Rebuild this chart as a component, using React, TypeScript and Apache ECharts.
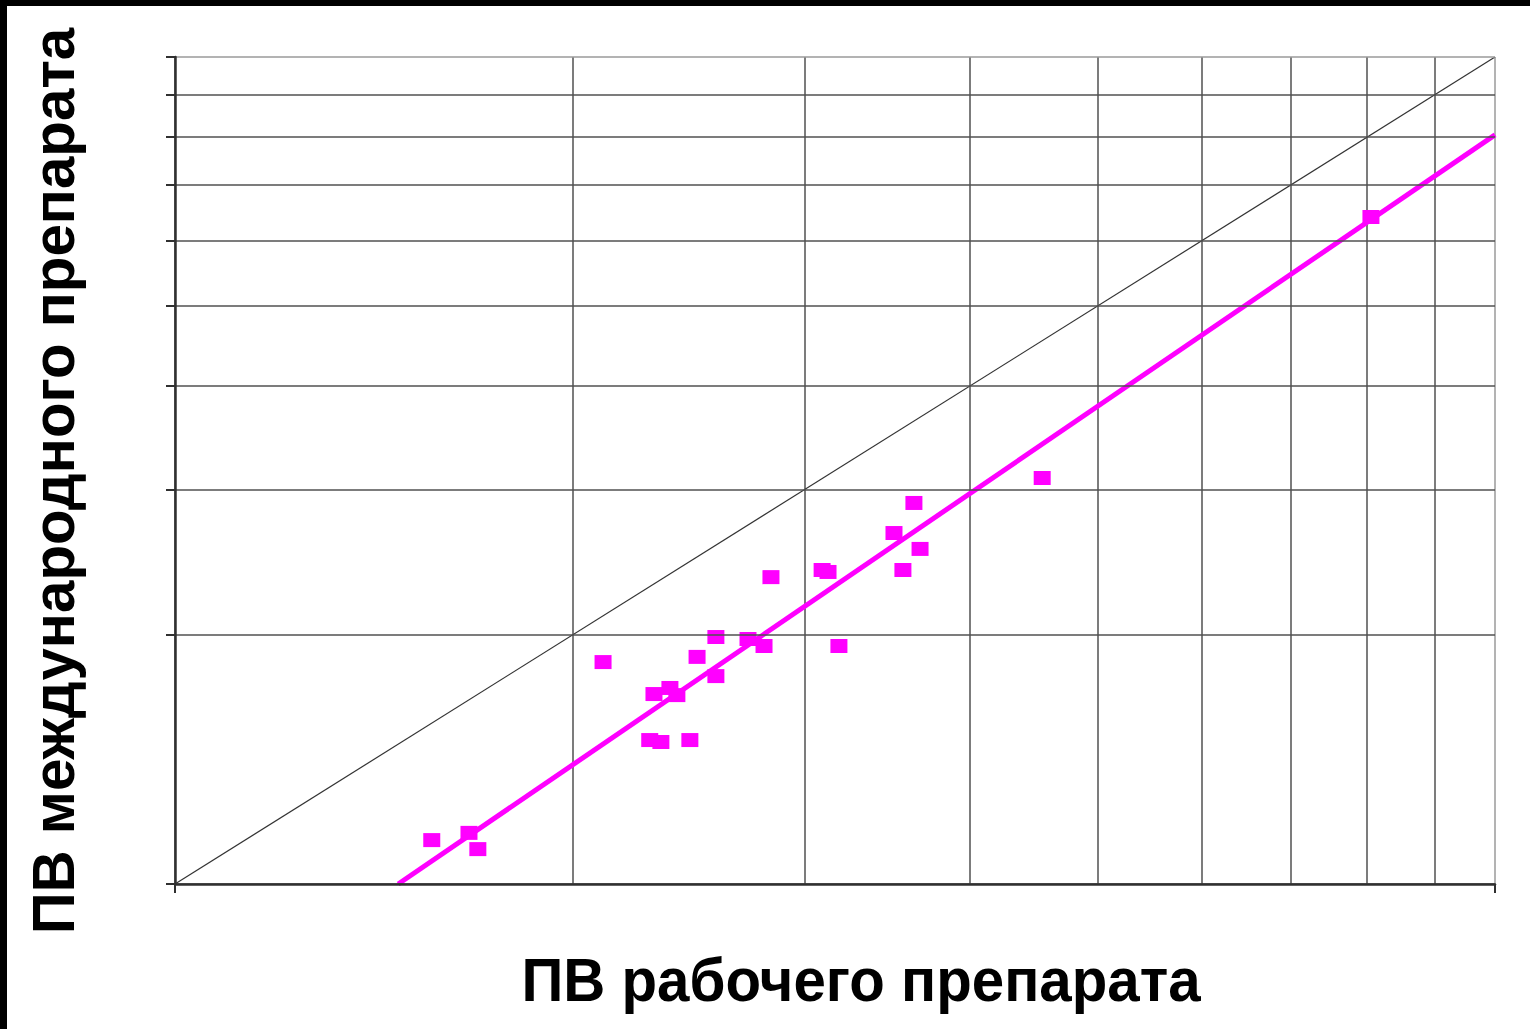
import React, { useEffect, useRef } from "react";
import * as echarts from "echarts";

// ПВ рабочего препарата (x), ПВ международного препарата (y) — log scales
const workingPT = [15.65, 16.7, 16.96, 21.1, 22.89, 23.34, 24.55, 23.06, 23.71, 24.0, 24.86, 25.69, 25.69, 27.17, 27.94, 28.28, 30.92, 31.24, 31.84, 35.05, 36.29, 35.6, 36.68, 45.39, 80.54];
const intlPT = [11.3, 11.53, 11.02, 18.55, 14.93, 14.85, 14.93, 16.97, 17.26, 16.92, 18.82, 17.84, 19.89, 19.78, 19.4, 23.5, 23.97, 23.84, 19.4, 26.57, 28.89, 23.97, 25.42, 30.97, 64.05];
const gridValues = [10, 20, 30, 40, 50, 60, 70, 80, 90, 100];
const xMajorTicks = [10, 100];
const identityLine = [[10, 10], [100, 100]];
const regressionLine = [[14.76, 10], [100, 80.5]];
const xTitle = "ПВ рабочего препарата";
const yTitle = "ПВ международного препарата";

const gridColors = ["#505050", "#505050", "#505050", "#505050", "#505050", "#505050", "#505050", "#505050", "#505050", "#9a9a9a"];

export default function App() {
  const ref = useRef<HTMLDivElement>(null);
  useEffect(() => {
    if (!ref.current) return;
    const chart = echarts.init(ref.current, null, { renderer: "svg" });
    const font = "Liberation Sans, Arial, sans-serif";
    chart.setOption({
      animation: false,
      backgroundColor: "#ffffff",
      grid: { left: 175, top: 57, right: 35, bottom: 145, containLabel: false },
      xAxis: [
        {
          type: "log", logBase: 10, min: 10, max: 100, position: "bottom",
          axisLine: { show: true, lineStyle: { color: "#303030", width: 2.5 } },
          axisTick: { show: true, length: 9, customValues: xMajorTicks, lineStyle: { color: "#303030", width: 2 } },
          axisLabel: { show: false },
          splitLine: { show: false },
          z: 5,
        },
        {
          type: "log", logBase: 10, min: 10, max: 100, position: "bottom",
          axisLine: { show: false },
          axisTick: { show: false, customValues: gridValues },
          axisLabel: { show: false },
          splitLine: { show: true, lineStyle: { color: gridColors, width: 1.5 } },
        },
      ],
      yAxis: {
        type: "log", logBase: 10, min: 10, max: 100,
        axisLine: { show: true, lineStyle: { color: "#303030", width: 2.5 } },
        axisTick: { show: true, length: 9, customValues: gridValues, lineStyle: { color: "#303030", width: 2 } },
        axisLabel: { show: false },
        splitLine: { show: true, lineStyle: { color: gridColors, width: 1.5 } },
        z: 5,
      },
      series: [
        {
          type: "line", data: identityLine, symbol: "none", silent: true,
          lineStyle: { color: "#333333", width: 1.2 }, z: 2,
        },
        {
          type: "line", data: regressionLine, symbol: "none", silent: true,
          lineStyle: { color: "#ff00ff", width: 5 }, z: 3,
        },
        {
          type: "scatter", data: workingPT.map((x, i) => [x, intlPT[i]]),
          symbol: "rect", symbolSize: [17, 14],
          itemStyle: { color: "#ff00ff", opacity: 1 }, z: 4,
        },
      ],
      graphic: [
        { type: "rect", left: 0, top: 0, shape: { width: 1530, height: 6 }, style: { fill: "#000" }, z: 100 },
        { type: "rect", left: 0, top: 0, shape: { width: 7, height: 1029 }, style: { fill: "#000" }, z: 100 },
        {
          type: "text", x: 861, y: 980, scaleX: 0.955,
          style: { text: xTitle, font: `bold 61px ${font}`, fill: "#000", textAlign: "center", textVerticalAlign: "middle" },
        },
        {
          type: "text", x: 53, y: 481, rotation: Math.PI / 2, scaleX: 0.987,
          style: { text: yTitle, font: `bold 59px ${font}`, fill: "#000", textAlign: "center", textVerticalAlign: "middle" },
        },
      ],
    });
    return () => chart.dispose();
  }, []);
  return <div ref={ref} style={{ position: "fixed", left: 0, top: 0, width: 1530, height: 1029 }} />;
}
